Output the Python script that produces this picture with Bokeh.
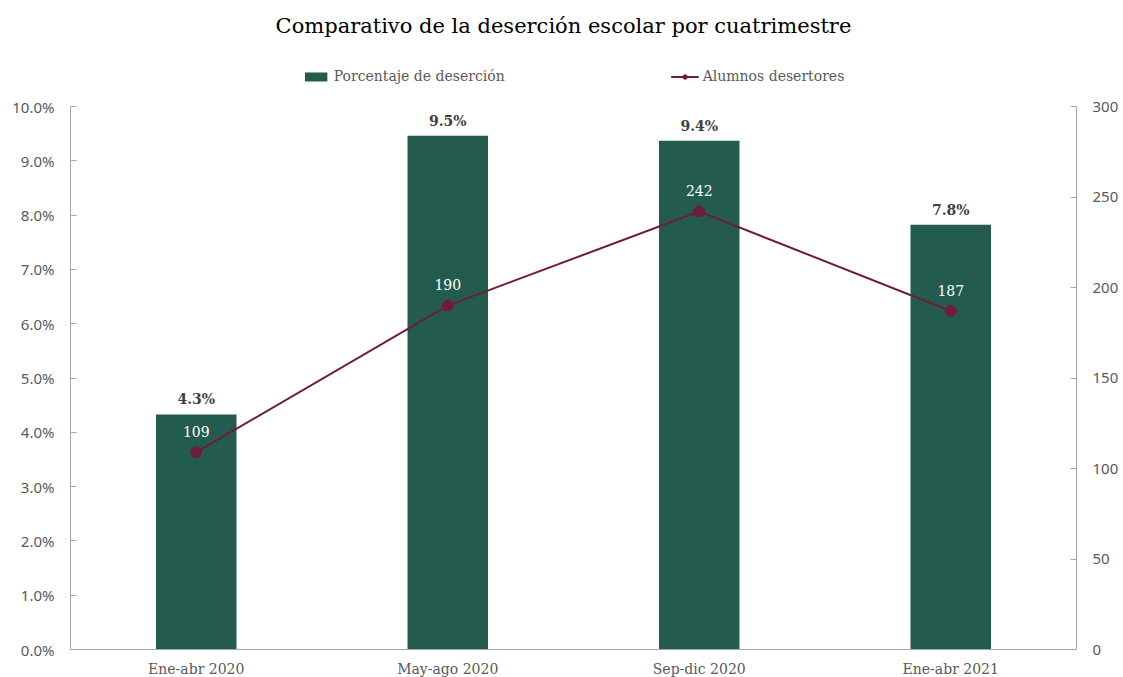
from bokeh.plotting import figure
from bokeh.models import (Range1d, LinearAxis, FixedTicker, PrintfTickFormatter,
                          Legend, LegendItem, ColumnDataSource, Label)
from bokeh.core.properties import value
from bokeh.embed import file_html
from bokeh.resources import INLINE

categories = ["Ene-abr 2020", "May-ago 2020", "Sep-dic 2020", "Ene-abr 2021"]
porcentaje = [4.33, 9.46, 9.37, 7.82]
alumnos = [109, 190, 242, 187]
pct_ticks = [0, 1, 2, 3, 4, 5, 6, 7, 8, 9, 10]
alum_ticks = [0, 50, 100, 150, 200, 250, 300]
titulo = "Comparativo de la deserción escolar por cuatrimestre"

GREEN = "#235B4E"
MAROON = "#6F1D36"
GRAY_TXT = "#595959"
AXIS = "#A6A6A6"
SERIF = "DejaVu Serif"

# layout: axis span (0..10) is 543 px; the frame extends to the top of the
# figure so that title and legend live inside it, above the axes
AXIS_PX = 543
FRAME_PX = 649
TITLE_PX_FROM_TOP = 25
PCT_MAX = 10
N_MAX = 300
TOP_PCT = PCT_MAX * FRAME_PX / AXIS_PX

src = ColumnDataSource(dict(
    cat=categories,
    pct=porcentaje,
    pct_lbl=[f"{v:.1f}%" for v in porcentaje],
    n=alumnos,
    n_lbl=[str(v) for v in alumnos],
))

p = figure(frame_width=1006, frame_height=FRAME_PX, x_range=categories,
           y_range=Range1d(0, TOP_PCT),
           output_backend="svg", toolbar_location=None,
           min_border_left=70, min_border_right=39, min_border_top=0, min_border_bottom=20)
p.extra_y_ranges = {"n": Range1d(0, N_MAX * FRAME_PX / AXIS_PX)}
p.outline_line_color = None
p.xgrid.grid_line_color = None
p.ygrid.grid_line_color = None

bars = p.vbar(x="cat", top="pct", width=0.32, source=src, fill_color=GREEN, line_color=None)
line = p.line(x="cat", y="n", source=src, y_range_name="n", line_color=MAROON, line_width=2)
pts = p.scatter(x="cat", y="n", source=src, y_range_name="n", size=11,
                fill_color=MAROON, line_color=MAROON)

p.text(x="cat", y="pct", text="pct_lbl", source=src, y_offset=-15,
       text_align="center", text_baseline="middle", text_font=value(SERIF),
       text_font_size="14px", text_font_style="bold", text_color="#404040")
p.text(x="cat", y="n", text="n_lbl", source=src, y_range_name="n", y_offset=-21,
       text_align="center", text_baseline="middle", text_font=value(SERIF),
       text_font_size="14px", text_color="white")

# Title (inside the frame, above the axes)
p.add_layout(Label(x=len(categories) / 2 - 0.04,
                   y=TOP_PCT * (FRAME_PX - TITLE_PX_FROM_TOP) / FRAME_PX,
                   text=titulo, text_align="center", text_baseline="middle",
                   text_font=SERIF, text_font_size="21px", text_color="#000000"))

# Left axis
ya = p.yaxis[0]
ya.ticker = FixedTicker(ticks=pct_ticks)
ya.formatter = PrintfTickFormatter(format="%.1f%%")
ya.bounds = (0, PCT_MAX)
ya.axis_line_color = AXIS
ya.major_tick_line_color = AXIS
ya.major_tick_in = 6
ya.major_tick_out = 0
ya.minor_tick_line_color = None
ya.major_label_text_font = "Noto Sans"
ya.major_label_text_font_size = "15px"
ya.major_label_text_color = GRAY_TXT
ya.major_label_standoff = 16

# Right axis
ra = LinearAxis(y_range_name="n", ticker=FixedTicker(ticks=alum_ticks), bounds=(0, N_MAX))
ra.axis_line_color = AXIS
ra.major_tick_line_color = AXIS
ra.major_tick_in = 6
ra.major_tick_out = 0
ra.minor_tick_line_color = None
ra.major_label_text_font = "Noto Sans"
ra.major_label_text_font_size = "15px"
ra.major_label_text_color = GRAY_TXT
ra.major_label_standoff = 16
p.add_layout(ra, "right")

# X axis
xa = p.xaxis[0]
xa.axis_line_color = AXIS
xa.major_tick_line_color = None
xa.minor_tick_line_color = None
xa.major_label_text_font = SERIF
xa.major_label_text_font_size = "14px"
xa.major_label_text_color = GRAY_TXT
xa.major_label_standoff = 5

legend = Legend(items=[LegendItem(label="Porcentaje de deserción", renderers=[bars]),
                       LegendItem(label="Alumnos desertores", renderers=[line, pts])],
                orientation="horizontal", location="top_center", spacing=166,
                glyph_width=28, glyph_height=11, label_text_font=SERIF,
                label_text_font_size="14px", label_text_color=GRAY_TXT,
                border_line_color=None, background_fill_alpha=0, padding=0, margin=68,
                label_standoff=4, label_height=11)
p.add_layout(legend, "center")

open("out.html", "w").write(file_html(p, INLINE))
